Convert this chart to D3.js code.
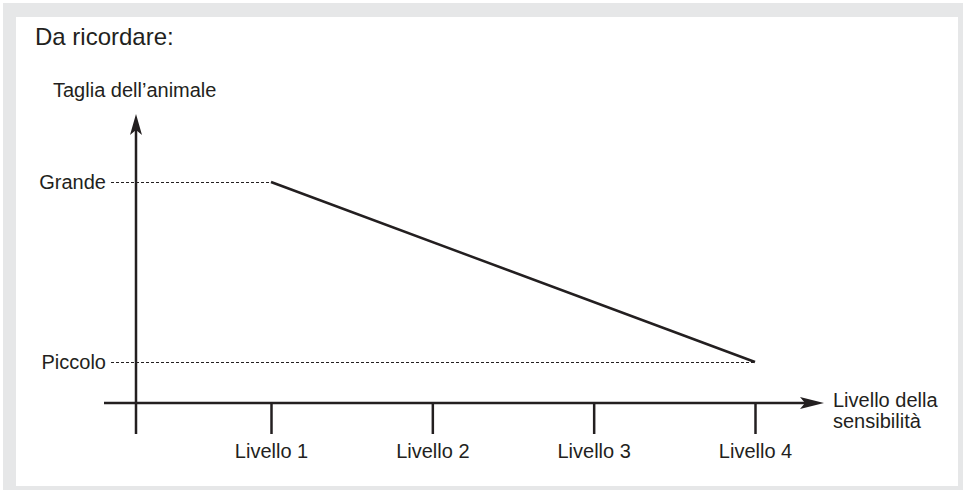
<!DOCTYPE html>
<html>
<head>
<meta charset="utf-8">
<script src="https://cdn.jsdelivr.net/npm/d3@7"></script>
<style>
	body { margin: 0; background: #fff; }
	svg { display: block; font-family: "Liberation Sans", Arial, Helvetica, sans-serif; }
	.lbl { fill: #231f20; font-size: 20px; }
</style>
</head>
<body>
<svg id="chart" width="963" height="490"></svg>
<script>
// data
const levels = [1, 2, 3, 4];
const sizeCategories = ["Piccolo", "Grande"];
const lineLevels = [1, 4];
const lineSizes = ["Grande", "Piccolo"];
const title = "Da ricordare:";
const yTitle = "Taglia dell\u2019animale";
const xTitle = ["Livello della", "sensibilità"];

const svg = d3.select("#chart"),
  ink = "#231f20";

// frame
svg.append("rect").attr("x", 3).attr("y", 3).attr("width", 960).attr("height", 487).attr("fill", "#e6e7e8");
svg.append("rect").attr("x", 16).attr("y", 17).attr("width", 942).attr("height", 469).attr("fill", "#fff");

const x = d3.scaleLinear().domain([1, 4]).range([271, 755]);
const y = d3.scalePoint().domain(sizeCategories).range([362, 182]);
const originX = 136, originY = 403;

svg.append("text").attr("class", "lbl").attr("x", 35).attr("y", 45)
  .style("font-size", "24px").text(title);
svg.append("text").attr("class", "lbl").attr("x", 53).attr("y", 97).text(yTitle);

// dashed guides
const pts = lineLevels.map((l, i) => [x(l), y(lineSizes[i])]);
pts.forEach(function(p) {
	svg.append("line")
	  .attr("x1", 111).attr("x2", p[0])
	  .attr("y1", p[1] + 0.5).attr("y2", p[1] + 0.5)
	  .attr("stroke", ink).attr("stroke-width", 1.2)
	  .attr("stroke-dasharray", "3,2");
});

// x axis
const xAxis = svg.append("g")
  .attr("transform", "translate(0," + originY + ")")
  .call(d3.axisBottom(x).tickValues(levels).tickSize(31).tickPadding(10)
	.tickFormat(d => "Livello " + d));
xAxis.select(".domain").remove();
xAxis.selectAll(".tick line").attr("stroke", ink).attr("stroke-width", 2.5);
xAxis.selectAll(".tick text").attr("class", "lbl").attr("font-family", null).attr("font-size", null);

// y axis labels
const yAxis = svg.append("g")
  .attr("transform", "translate(" + originX + ",0)")
  .call(d3.axisLeft(y).tickSize(0).tickPadding(30));
yAxis.select(".domain").remove();
yAxis.selectAll(".tick text").attr("class", "lbl").attr("font-family", null).attr("font-size", null);

// axis lines with arrows
svg.append("line").attr("x1", 104).attr("x2", 806).attr("y1", originY).attr("y2", originY)
  .attr("stroke", ink).attr("stroke-width", 2.5);
svg.append("line").attr("x1", originX).attr("x2", originX).attr("y1", 434).attr("y2", 128)
  .attr("stroke", ink).attr("stroke-width", 2.5);
svg.append("path")
  .attr("d", "M824," + originY + "L800," + (originY - 6) + "L805," + originY + "L800," + (originY + 6) + "Z")
  .attr("fill", ink);
svg.append("path")
  .attr("d", "M" + originX + ",114L" + (originX - 6) + ",135L" + originX + ",130L" + (originX + 6) + ",135Z")
  .attr("fill", ink);

svg.append("text").attr("class", "lbl").attr("x", 833).attr("y", 407).text(xTitle[0]);
svg.append("text").attr("class", "lbl").attr("x", 833).attr("y", 428).text(xTitle[1]);

// the line
svg.append("path")
  .datum(pts)
  .attr("d", d3.line())
  .attr("fill", "none")
  .attr("stroke", ink)
  .attr("stroke-width", 2.5);
</script>
</body>
</html>
